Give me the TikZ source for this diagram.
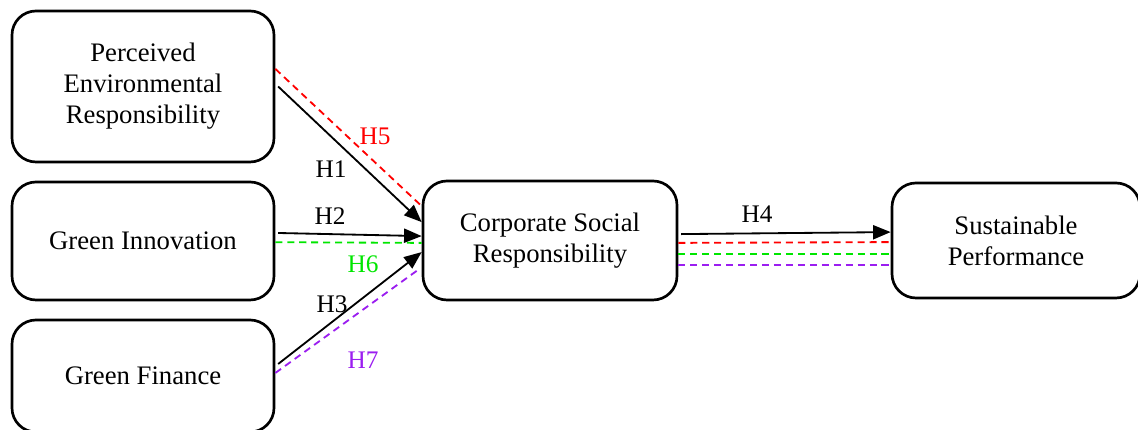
\documentclass[tikz,border=0pt]{standalone}
\usepackage{fontspec}
\setmainfont{Liberation Serif}
\usetikzlibrary{arrows.meta}
\definecolor{hred}{RGB}{255,0,0}
\definecolor{hgreen}{RGB}{0,230,0}
\definecolor{hpurple}{RGB}{155,30,240}

\begin{document}
\begin{tikzpicture}[>={Triangle[length=12.5pt,width=10pt]},
  box/.style={draw,line width=1.9pt,rounded corners=0.6cm,align=center,
    font=\fontsize{19}{22}\selectfont},
  lbl/.style={font=\fontsize{18}{20}\selectfont},
  link/.style={line width=1.3pt},
  hdash/.style={line width=1.3pt,dash pattern=on 5pt off 3.5pt}]
\useasboundingbox (0,0) rectangle (28.45,10.75);

\node[box,minimum width=6.55cm,minimum height=3.775cm] (PER) at (3.575,8.5875)
  {Perceived\\Environmental\\Responsibility};
\node[box,minimum width=6.55cm,minimum height=2.95cm] (GI) at (3.575,4.725) {Green Innovation};
\node[box,minimum width=6.55cm,minimum height=2.8cm] (GF) at (3.575,1.35) {Green Finance};
\node[box,minimum width=6.35cm,minimum height=2.975cm] (CSR) at (13.75,4.7375)
  {Corporate Social\\Responsibility};
\node[box,minimum width=6.2cm,minimum height=2.875cm] (SP) at (25.4,4.7375)
  {Sustainable\\Performance};

% direct paths
\draw[link,->] ([xshift=2pt]PER.east) -- ([yshift=0.46cm]CSR.west);
\draw[link,->] ([xshift=2pt,yshift=0.2cm]GI.east) -- ([yshift=0.11cm]CSR.west);
\draw[link,->] ([xshift=2pt,yshift=0.3cm]GF.east) -- ([yshift=-0.29cm]CSR.west);
\draw[link,->] ([xshift=2pt,yshift=0.16cm]CSR.east) -- ([yshift=0.21cm]SP.west);

% mediated paths
\draw[hdash,hred] ([yshift=0.44cm]PER.east) -- ([yshift=0.86cm]CSR.west);
\draw[hdash,hred] ([yshift=-0.06cm]CSR.east) -- ([yshift=-0.04cm]SP.west);
\draw[hdash,hgreen] ([yshift=-0.03cm]GI.east) -- ([yshift=-0.06cm]CSR.west);
\draw[hdash,hgreen] ([yshift=-0.34cm]CSR.east) -- ([yshift=-0.34cm]SP.west);
\draw[hdash,hpurple] ([yshift=0.075cm]GF.east) -- ([xshift=-0.125cm,yshift=-0.76cm]CSR.west);
\draw[hdash,hpurple] ([yshift=-0.61cm]CSR.east) -- ([yshift=-0.61cm]SP.west);

\node[lbl] (h1) at (8.275,6.525) {H1};
\node[lbl] (h2) at (8.25,5.35) {H2};
\node[lbl] (h3) at (8.3,3.15) {H3};
\node[lbl] (h4) at (18.925,5.4) {H4};
\node[lbl,hred] (h5) at (9.375,7.35) {H5};
\node[lbl,hgreen] (h6) at (9.075,4.15) {H6};
\node[lbl,hpurple] (h7) at (9.075,1.75) {H7};
\end{tikzpicture}
\end{document}
